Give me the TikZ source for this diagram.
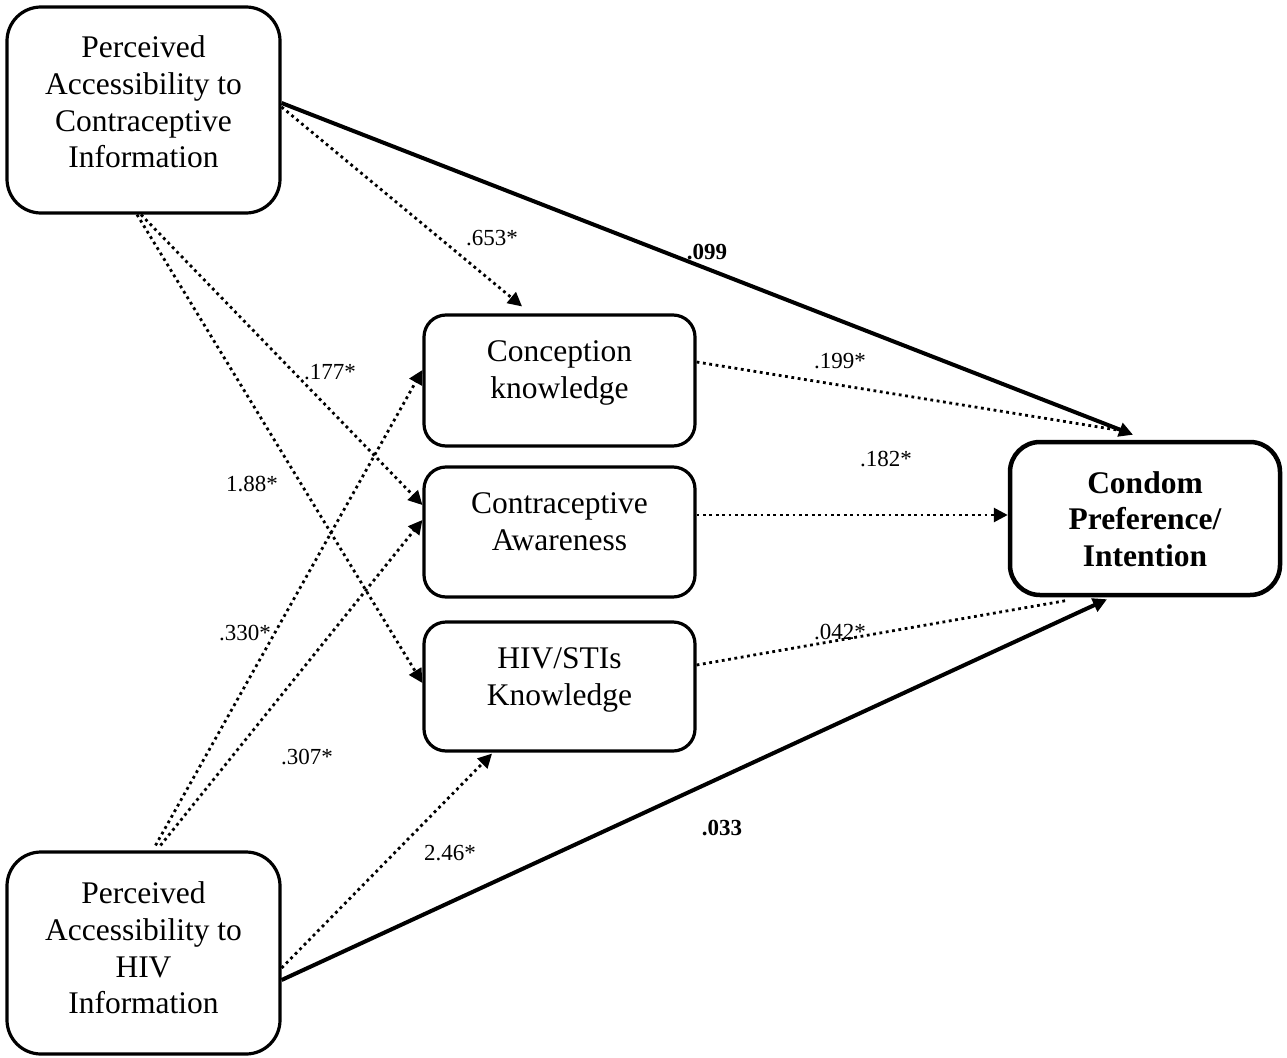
\documentclass[tikz,border=0pt]{standalone}
\usepackage{fontspec}
\setmainfont{Liberation Serif}
\usetikzlibrary{arrows.meta,calc}

\begin{document}
\begin{tikzpicture}[x=1pt,y=-1pt,
  box/.style={draw, line width=3.2pt, rounded corners=#1, inner sep=0pt},
  box/.default=22pt,
  boxtext/.style={align=center, inner sep=0pt, anchor=north,
    font=\fontsize{31.5}{36.8}\selectfont},
  coef/.style={inner sep=0pt, font=\fontsize{23}{27}\selectfont},
  coefb/.style={inner sep=0pt, font=\fontsize{23}{27}\selectfont\bfseries},
  tip/.style={-{Triangle[length=14pt,width=14pt]}},
  direct/.style={line width=4pt, tip},
  indirect/.style={line width=2.8pt, dash pattern=on 2.8pt off 3.6pt},
]
\useasboundingbox (0,0) rectangle (1287,1057);

% ---- boxes ----
\node[box=34pt, minimum width=273pt, minimum height=206pt] (A) at (143.5,110) {};
\node[boxtext] (At) at (143.5,35.5) {Perceived\\Accessibility to\\Contraceptive\\Information};

\node[box=34pt, minimum width=273pt, minimum height=202pt] (B) at (143.5,953) {};
\node[boxtext] (Bt) at (143.5,881.5) {Perceived\\Accessibility to\\HIV\\Information};

\node[box, minimum width=271pt, minimum height=131pt] (C1) at (559.5,380.5) {};
\node[boxtext] (C1t) at (559.5,340.5) {Conception\\knowledge};

\node[box, minimum width=271pt, minimum height=130pt] (C2) at (559.5,532) {};
\node[boxtext] (C2t) at (559.5,492.5) {Contraceptive\\Awareness};

\node[box, minimum width=271pt, minimum height=129pt] (C3) at (559.5,686.5) {};
\node[boxtext] (C3t) at (559.5,647.7) {HIV/STIs\\Knowledge};

\node[box=30pt, line width=4.5pt, minimum width=270pt, minimum height=153pt] (D) at (1145,518.5) {};
\node[boxtext, font=\fontsize{31.5}{36.8}\selectfont\bfseries] (Dt) at (1145,471) {Condom\\Preference/\\Intention};

% ---- paths from contraceptive information ----
\draw[direct] ([yshift=7pt]A.east) -- ([xshift=-12pt,yshift=5pt]D.north);
\draw[indirect,tip] ([yshift=3pt]A.east) -- ([xshift=-37.5pt,yshift=7pt]C1.north);
\draw[indirect,tip] ([xshift=-2.5pt]A.south) -- ([yshift=27pt]C2.west);
\draw[indirect,tip] ([xshift=-6.5pt]A.south) -- ([yshift=3.5pt]C3.west);

% ---- paths from HIV information ----
\draw[indirect,tip] ([xshift=12pt,yshift=5pt]B.north) -- ([yshift=10.5pt]C1.west);
\draw[indirect,tip] ([xshift=17pt,yshift=5pt]B.north) -- ([yshift=12pt]C2.west);
\draw[indirect,tip] ([yshift=-15pt]B.east) -- ([xshift=-67.5pt,yshift=-1pt]C3.south);
\draw[direct] ([yshift=-27pt]B.east) -- ([xshift=-38pt,yshift=-2pt]D.south);

% ---- paths from mediators to outcome ----
\draw[indirect] ([yshift=18.5pt]C1.east) -- ([xshift=-23pt,yshift=9pt]D.north);
\draw[indirect,tip] ([yshift=17pt]C2.east) -- ([yshift=3.5pt]D.west);
\draw[indirect] ([yshift=21.5pt]C3.east) -- ([xshift=-77pt,yshift=-3pt]D.south);

% ---- coefficients ----
\node[coef] (k653) at (492,238) {.653*};
\node[coefb] (k099) at (707,252) {.099};
\node[coef] (k199) at (840,361) {.199*};
\node[coef] (k177) at (330,372) {.177*};
\node[coef] (k188) at (252,484) {1.88*};
\node[coef] (k182) at (886,459) {.182*};
\node[coef] (k330) at (245,633) {.330*};
\node[coef] (k042) at (840,632) {.042*};
\node[coef] (k307) at (307,757) {.307*};
\node[coefb] (k033) at (722,828) {.033};
\node[coef] (k246) at (450,853) {2.46*};
\end{tikzpicture}
\end{document}
